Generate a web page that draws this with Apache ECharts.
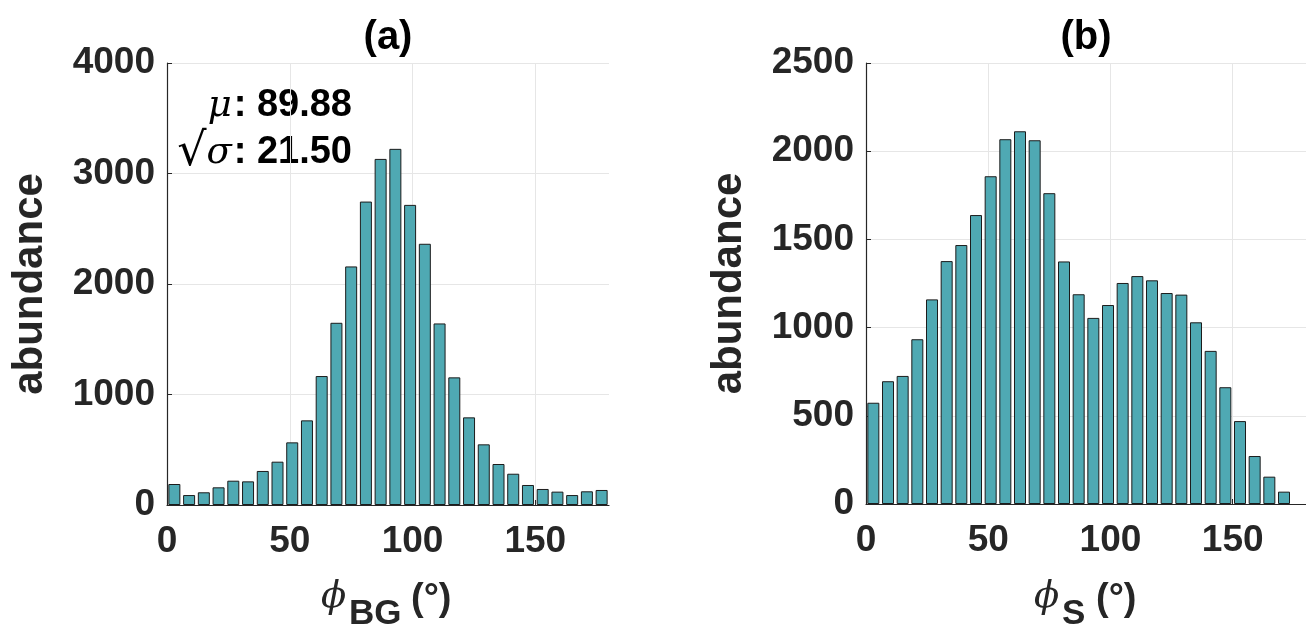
<!DOCTYPE html>
<html>
<head>
<meta charset="utf-8">
<script src="https://cdn.jsdelivr.net/npm/echarts@6/dist/echarts.min.js"></script>
<style>
html,body{margin:0;padding:0;background:#fff;}
#chart{width:1306px;height:627px;}
</style>
</head>
<body>
<div id="chart"></div>
<script>
// ---- data ----
const binCentersA = [3,9,15,21,27,33,39,45,51,57,63,69,75,81,87,93,99,105,111,117,123,129,135,141,147,153,159,165,171,177];
const countsA = [190,90,115,160,220,214,308,392,567,766,1167,1649,2159,2746,3132,3223,2716,2364,1643,1155,793,549,371,283,181,145,121,90,124,136];
const binCentersB = [3,9,15,21,27,33,39,45,51,57,63,69,75,81,87,93,99,105,111,117,123,129,135,141,147,153,159,165,171];
const countsB = [574,696,726,934,1160,1377,1468,1638,1858,2068,2113,2062,1762,1375,1189,1055,1128,1253,1292,1268,1196,1187,1030,868,662,470,272,155,70];
const xTicks = [0,50,100,150];
const yTicksA = [0,1000,2000,3000,4000];
const yTicksB = [0,500,1000,1500,2000,2500];
const titles = ['(a)','(b)'];
const yName = 'abundance';
const statsA = {mu:'89.88', sigma:'21.50'};

const axisColor = '#262626';
const gridColor = '#e6e6e6';
const barColor = '#4fa9b3';
const sans = '"Liberation Sans", Arial, Helvetica, sans-serif';
const serif = '"DejaVu Serif", "Liberation Serif", serif';

function xAxisCfg(idx){
  return {
    gridIndex: idx, type:'value', min:0, max:180, interval:50,
    axisLine:{show:true, onZero:false, lineStyle:{color:axisColor, width:1.2}},
    axisTick:{show:true, inside:true, length:5, customValues:xTicks, lineStyle:{color:axisColor}},
    axisLabel:{show:true, customValues:xTicks, margin:18, color:axisColor, fontFamily:sans, fontWeight:'bold', fontSize:37, formatter:v=>String(v)},
    splitLine:{show:true, lineStyle:{color:gridColor, width:1}}
  };
}
function yAxisCfg(idx, max, interval, ticks, gap){
  return {
    gridIndex: idx, type:'value', min:0, max:max, interval:interval,
    name:yName, nameLocation:'middle', nameRotate:90, nameGap:gap,
    nameTextStyle:{color:axisColor, fontFamily:sans, fontWeight:'bold', fontSize:42},
    axisLine:{show:true, lineStyle:{color:axisColor, width:1.2}},
    axisTick:{show:true, inside:true, length:5, customValues:ticks, lineStyle:{color:axisColor}},
    axisLabel:{show:true, customValues:ticks, margin:12, color:axisColor, fontFamily:sans, fontWeight:'bold', fontSize:37, formatter:v=>String(v)},
    splitLine:{show:true, lineStyle:{color:gridColor, width:1}}
  };
}
function barSeries(idx, centers, counts){
  return {
    type:'bar', xAxisIndex:idx, yAxisIndex:idx, barWidth:12, barGap:'0%',
    data: centers.map((c,i)=>[c, counts[i]]),
    itemStyle:{color:barColor, borderColor:'#1c1c1c', borderWidth:1},
    emphasis:{disabled:true}, animation:false
  };
}

const chart = echarts.init(document.getElementById('chart'), null, {renderer:'canvas'});
chart.setOption({
  backgroundColor:'#ffffff',
  animation:false,
  grid:[
    {left:167, top:63, width:442, height:442, containLabel:false},
    {left:866, top:63, width:440, height:441, containLabel:false}
  ],
  xAxis:[xAxisCfg(0), xAxisCfg(1)],
  yAxis:[yAxisCfg(0,4000,1000,yTicksA,116), yAxisCfg(1,2500,500,yTicksB,116)],
  series:[barSeries(0, binCentersA, countsA), barSeries(1, binCentersB, countsB)],
  graphic:[
    {type:'text', x:388, y:38, style:{text:titles[0], align:'center', verticalAlign:'middle', fill:'#000', font:'bold 40px '+sans}},
    {type:'text', x:1086, y:38, style:{text:titles[1], align:'center', verticalAlign:'middle', fill:'#000', font:'bold 40px '+sans}},
    // annotation
    {type:'text', x:352, y:106, style:{
      text:'{g|μ}{n|: '+statsA.mu+'}', align:'right', verticalAlign:'middle',
      rich:{g:{fontFamily:serif, fontStyle:'italic', fontSize:37, fill:'#000', padding:[0,2,0,0]}, n:{fontFamily:sans, fontWeight:'bold', fontSize:38, fill:'#000'}}
    }},
    {type:'text', x:352, y:153, style:{
      text:'{r|√}{g|σ}{n|: '+statsA.sigma+'}', align:'right', verticalAlign:'middle',
      rich:{r:{fontFamily:serif, fontSize:46, fill:'#000'}, g:{fontFamily:serif, fontStyle:'italic', fontSize:37, fill:'#000', padding:[0,2,0,0]}, n:{fontFamily:sans, fontWeight:'bold', fontSize:38, fill:'#000'}}
    }},
    // x axis names
    {type:'text', x:321, y:597, style:{text:'ϕ', align:'left', verticalAlign:'middle', fill:axisColor, font:'italic 37px '+serif}},
    {type:'text', x:349, y:614, style:{text:'BG', align:'left', verticalAlign:'middle', fill:axisColor, font:'bold 35px '+sans}},
    {type:'text', x:411, y:600, style:{text:'(°)', align:'left', verticalAlign:'middle', fill:axisColor, font:'bold 38px '+sans}},
    {type:'text', x:1034, y:597, style:{text:'ϕ', align:'left', verticalAlign:'middle', fill:axisColor, font:'italic 37px '+serif}},
    {type:'text', x:1062, y:614, style:{text:'S', align:'left', verticalAlign:'middle', fill:axisColor, font:'bold 35px '+sans}},
    {type:'text', x:1096, y:600, style:{text:'(°)', align:'left', verticalAlign:'middle', fill:axisColor, font:'bold 38px '+sans}}
  ]
});
</script>
</body>
</html>
